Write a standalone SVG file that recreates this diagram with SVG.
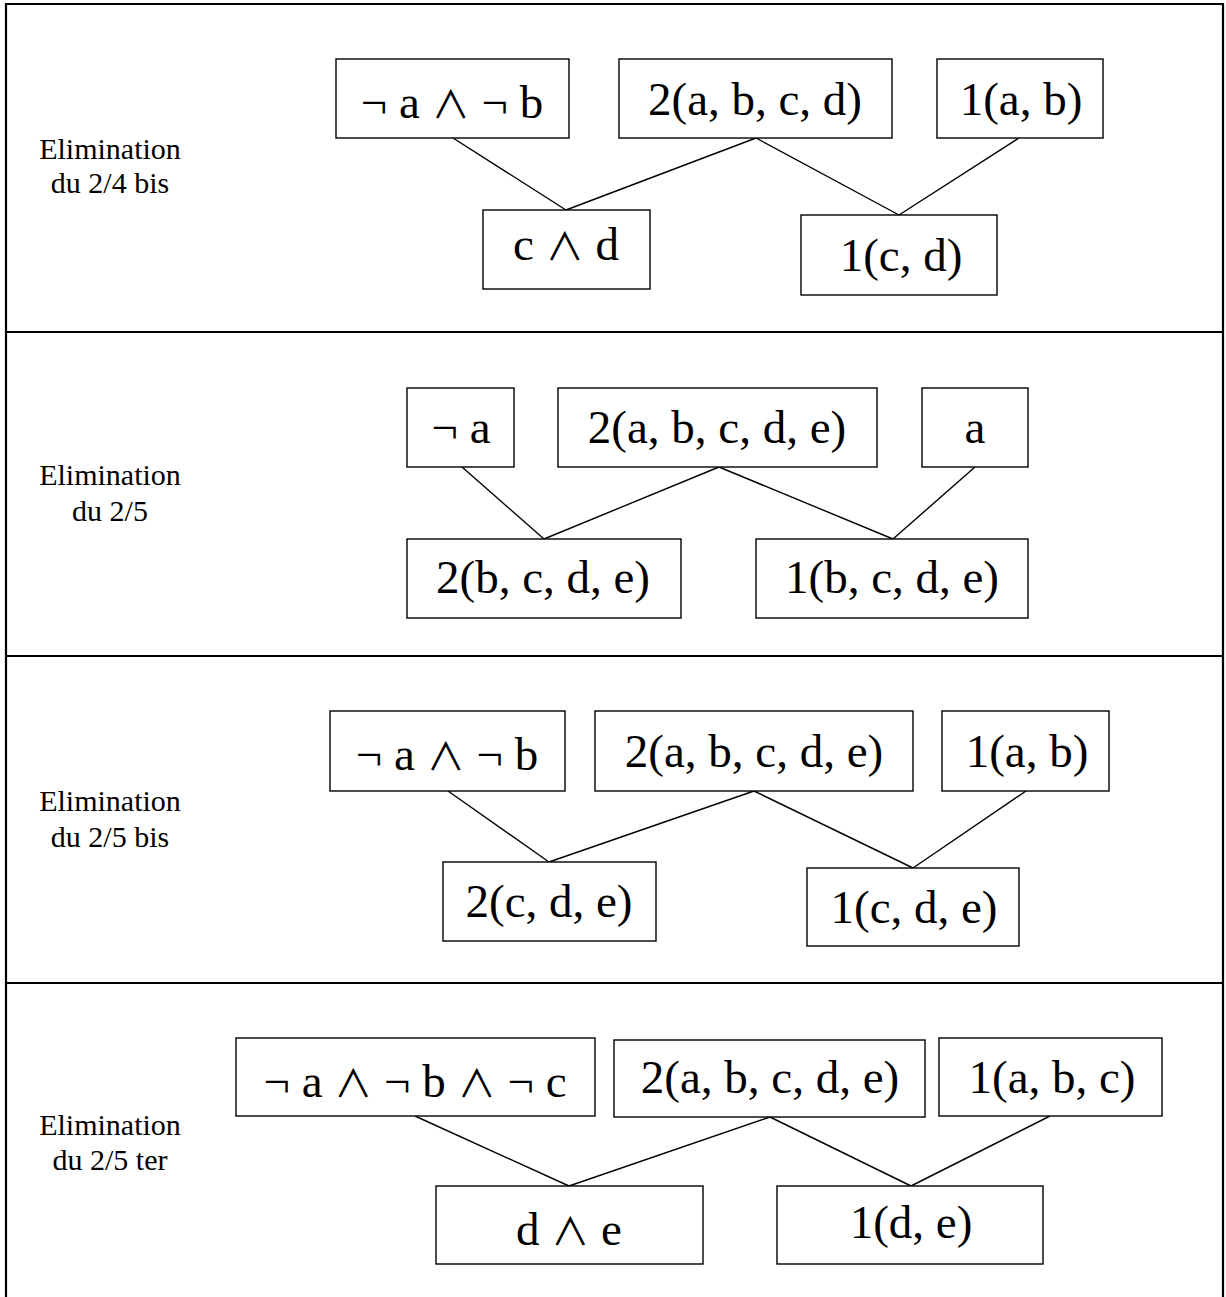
<svg xmlns="http://www.w3.org/2000/svg" width="1226" height="1297" viewBox="0 0 1226 1297">
<style>
.frame{fill:none;stroke:#000;stroke-width:2.2}
.box{fill:#fff;stroke:#000;stroke-width:1.4}
.bt{font-family:"Liberation Serif",serif;font-size:47px;text-anchor:middle;fill:#000}
.sym{font-family:"Noto Sans CJK SC","Noto Sans CJK JP",sans-serif;font-weight:normal;font-size:38px}
.lbl{font-family:"Liberation Serif",serif;font-size:30px;text-anchor:middle;fill:#000}
.con line{stroke:#000;stroke-width:1.4}
</style>
<rect width="1226" height="1297" fill="#fff"/>
<g id="frame">
<path class="frame" d="M6,1297 V4 H1223 V1297"/>
<line class="frame" x1="6" y1="332" x2="1223" y2="332"/>
<line class="frame" x1="6" y1="656" x2="1223" y2="656"/>
<line class="frame" x1="6" y1="983" x2="1223" y2="983"/>
</g>
<g id="labels">
<text class="lbl" x="110" y="159">Elimination</text>
<text class="lbl" x="110" y="193">du 2/4 bis</text>
<text class="lbl" x="110" y="485">Elimination</text>
<text class="lbl" x="110" y="521">du 2/5</text>
<text class="lbl" x="110" y="811">Elimination</text>
<text class="lbl" x="110" y="847">du 2/5 bis</text>
<text class="lbl" x="110" y="1135">Elimination</text>
<text class="lbl" x="110" y="1170">du 2/5 ter</text>
</g>
<g id="connectors" class="con">
<line x1="453" y1="138" x2="566" y2="210"/>
<line x1="756" y1="138" x2="566" y2="210"/>
<line x1="756" y1="138" x2="899" y2="215"/>
<line x1="1019" y1="138" x2="899" y2="215"/>
<line x1="462" y1="467" x2="544" y2="539"/>
<line x1="719" y1="467" x2="544" y2="539"/>
<line x1="719" y1="467" x2="893" y2="539"/>
<line x1="975" y1="467" x2="893" y2="539"/>
<line x1="448" y1="791" x2="549" y2="862"/>
<line x1="754" y1="791" x2="549" y2="862"/>
<line x1="754" y1="791" x2="913" y2="868"/>
<line x1="1026" y1="791" x2="913" y2="868"/>
<line x1="415" y1="1116" x2="569" y2="1186"/>
<line x1="770" y1="1117" x2="569" y2="1186"/>
<line x1="770" y1="1117" x2="911" y2="1186"/>
<line x1="1050" y1="1116" x2="911" y2="1186"/>
</g>
<g id="p1-n1"><rect class="box" x="336" y="59" width="233" height="79"/><text class="bt" x="452" y="118">¬ a <tspan class="sym">∧</tspan> ¬ b</text></g>
<g id="p1-n2"><rect class="box" x="619" y="59" width="273" height="79"/><text class="bt" x="755" y="115">2(a, b, c, d)</text></g>
<g id="p1-n3"><rect class="box" x="937" y="59" width="166" height="79"/><text class="bt" x="1021" y="115">1(a, b)</text></g>
<g id="p1-n4"><rect class="box" x="483" y="210" width="167" height="79"/><text class="bt" x="566" y="260">c <tspan class="sym">∧</tspan> d</text></g>
<g id="p1-n5"><rect class="box" x="801" y="215" width="196" height="80"/><text class="bt" x="901" y="271">1(c, d)</text></g>
<g id="p2-n1"><rect class="box" x="407" y="388" width="107" height="79"/><text class="bt" x="461" y="443">¬ a</text></g>
<g id="p2-n2"><rect class="box" x="558" y="388" width="319" height="79"/><text class="bt" x="717" y="443">2(a, b, c, d, e)</text></g>
<g id="p2-n3"><rect class="box" x="922" y="388" width="106" height="79"/><text class="bt" x="975" y="443">a</text></g>
<g id="p2-n4"><rect class="box" x="407" y="539" width="274" height="79"/><text class="bt" x="543" y="593">2(b, c, d, e)</text></g>
<g id="p2-n5"><rect class="box" x="756" y="539" width="272" height="79"/><text class="bt" x="892" y="593">1(b, c, d, e)</text></g>
<g id="p3-n1"><rect class="box" x="330" y="711" width="235" height="80"/><text class="bt" x="447" y="770">¬ a <tspan class="sym">∧</tspan> ¬ b</text></g>
<g id="p3-n2"><rect class="box" x="595" y="711" width="318" height="80"/><text class="bt" x="754" y="767">2(a, b, c, d, e)</text></g>
<g id="p3-n3"><rect class="box" x="942" y="711" width="167" height="80"/><text class="bt" x="1027" y="767">1(a, b)</text></g>
<g id="p3-n4"><rect class="box" x="443" y="862" width="213" height="79"/><text class="bt" x="549" y="917">2(c, d, e)</text></g>
<g id="p3-n5"><rect class="box" x="807" y="868" width="212" height="78"/><text class="bt" x="914" y="923">1(c, d, e)</text></g>
<g id="p4-n1"><rect class="box" x="236" y="1038" width="359" height="78"/><text class="bt" x="415" y="1097">¬ a <tspan class="sym">∧</tspan> ¬ b <tspan class="sym">∧</tspan> ¬ c</text></g>
<g id="p4-n2"><rect class="box" x="614" y="1040" width="311" height="77"/><text class="bt" x="770" y="1093">2(a, b, c, d, e)</text></g>
<g id="p4-n3"><rect class="box" x="939" y="1038" width="223" height="78"/><text class="bt" x="1052" y="1093">1(a, b, c)</text></g>
<g id="p4-n4"><rect class="box" x="436" y="1186" width="267" height="78"/><text class="bt" x="569" y="1245">d <tspan class="sym">∧</tspan> e</text></g>
<g id="p4-n5"><rect class="box" x="777" y="1186" width="266" height="78"/><text class="bt" x="911" y="1238">1(d, e)</text></g>
</svg>
